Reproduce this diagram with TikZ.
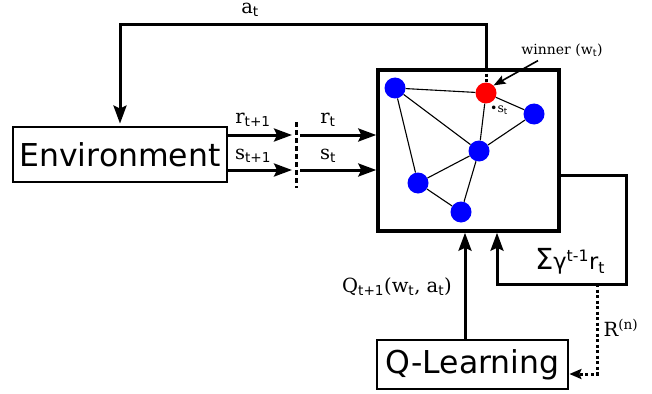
\documentclass[tikz,border=0pt]{standalone}
\usepackage{fontspec}
\setmainfont{DejaVu Serif}
\setsansfont{DejaVu Sans}
\usetikzlibrary{arrows.meta,calc}
\newcommand{\mysub}[1]{\textsubscript{\sffamily #1}}
\newcommand{\mysup}[1]{\textsuperscript{\sffamily #1}}
\newcommand{\fsz}[1]{\fontsize{#1}{#1}\selectfont}
\tikzset{
  bigbox/.style={draw, line width=2.8pt, inner sep=0pt, font=\sffamily\fsz{31.5}},
  arr/.style={line width=3pt, -{Stealth[length=18pt,width=13pt,inset=3pt]}},
  lbl/.style={font=\fsz{19.5}, inner sep=0pt},
  gnode/.style={circle, fill=blue, minimum size=21pt, inner sep=0pt},
  wnode/.style={circle, fill=red, minimum size=21pt, inner sep=0pt},
  edge/.style={line width=1.1pt},
  dotl/.style={line width=3pt, dash pattern=on 3pt off 2.5pt},
}
\begin{document}
\begin{tikzpicture}[x=1pt,y=-1pt]
\useasboundingbox (0,0) rectangle (652,393);
% boxes
\node[bigbox, minimum width=214pt, minimum height=55pt] (env) at (120,154.5) {Environment};
\node[draw, line width=3.5pt, minimum width=181pt, minimum height=161pt, inner sep=0pt] (som) at (468.5,150.5) {};
\node[bigbox, minimum width=191pt, minimum height=49pt] (ql) at (472.5,364.5) {Q-Learning};
% graph
\node[gnode] (n1) at (395,88) {};
\node[wnode] (red) at (486,93) {};
\node[gnode] (n3) at (534,114) {};
\node[gnode] (n4) at (479,151) {};
\node[gnode] (n5) at (418,183) {};
\node[gnode] (n6) at (461,212) {};
\draw[edge] (n1) -- (red);
\draw[edge] (n1) -- (n4);
\draw[edge] (n1) -- (n5);
\draw[edge] (red) -- (n3);
\draw[edge] (red) -- (n4);
\draw[edge] (n3) -- (n4);
\draw[edge] (n4) -- (n5);
\draw[edge] (n4) -- (n6);
\draw[edge] (n5) -- (n6);
\node[font=\fsz{12.5}, inner sep=0pt] (st) at (499,110) {\textbullet s\mysub{t}};
% winner
\node[font=\fsz{14}, inner sep=0pt] (winner) at (562,50) {winner (w\mysub{t})};
\draw[line width=1.6pt, -{Stealth[length=12pt,width=9pt,inset=2pt]}] ($(winner.south)+(-24,4)$) -- (red.north east);
\draw[dotl] (red |- som.north) -- (red.north);
% a_t loop
\coordinate (top) at (0,25);
\draw[arr, shorten >=2pt] (red |- som.north) -- (red |- top) -| (env.north);
\node[lbl] (at) at (250,10) {a\mysub{t}};
% inputs
\coordinate (ry) at (0,135);
\coordinate (sy) at (0,170);
\coordinate (d1) at (296,122);
\coordinate (d2) at (296,188);
\draw[line width=3pt, dash pattern=on 5pt off 3pt] (d1) -- (d2);
\draw[arr, shorten >=4pt] (env.east |- ry) -- (d1 |- ry);
\draw[arr, shorten >=4pt] (env.east |- sy) -- (d1 |- sy);
\draw[arr, shorten <=4pt] (d1 |- ry) -- (som.west |- ry);
\draw[arr, shorten <=4pt] (d1 |- sy) -- (som.west |- sy);
\node[lbl] (r1) at (253,120) {r\mysub{t+1}};
\node[lbl] (s1) at (253,156) {s\mysub{t+1}};
\node[lbl] (r0) at (328,120) {r\mysub{t}};
\node[lbl] (s0) at (328,156) {s\mysub{t}};
% Q arrow
\coordinate (qa) at (465,0);
\draw[arr] (qa |- ql.north) -- (qa |- som.south);
\node[lbl] (qlab) at (397,287) {Q\mysub{t+1}(w\mysub{t}, a\mysub{t})};
% sum loop
\coordinate (lp1) at (626,175);
\coordinate (lp2) at (497,284);
\draw[arr] (som.east |- lp1) -- (lp1) -- (lp1 |- lp2) -- (lp2) -- (lp2 |- som.south);
\node[inner sep=0pt, font=\sffamily\fsz{22.5}] (sum) at (570,261) {{\fsz{29}Σ}γ\textsuperscript{t-1}r\textsubscript{t}};
% R^(n)
\coordinate (rd) at (597,284);
\coordinate (rq) at (597,374);
\draw[dotl, -{Stealth[length=12pt,width=10pt,inset=2pt]}] (rd) -- (rq) -- (ql.east |- rq);
\node[lbl] (rn) at (621,328) {R\textsuperscript{(n)}};
\end{tikzpicture}
\end{document}
